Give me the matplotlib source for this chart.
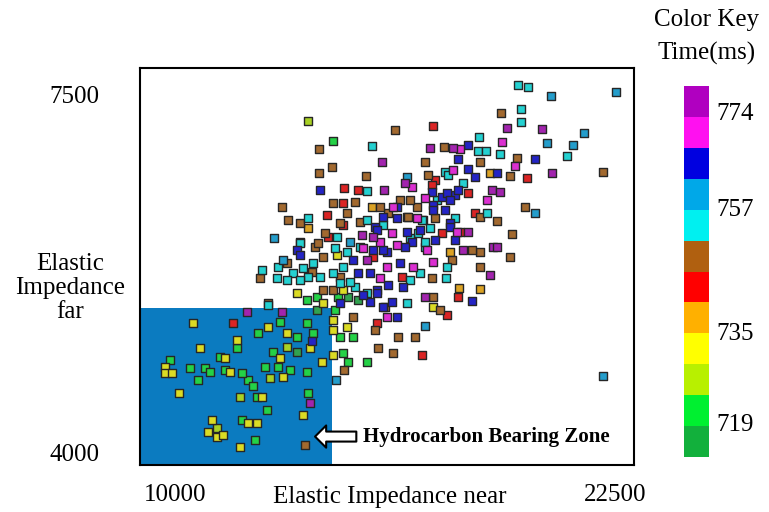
import numpy as np
import matplotlib
matplotlib.use("Agg")
import matplotlib.pyplot as plt
from matplotlib import colors, patches
from matplotlib.colorbar import ColorbarBase

plt.rcParams['font.family'] = ['Liberation Serif', 'DejaVu Serif']

# colour key: 12 time bins (ms), bottom -> top
key_colors = ['#12b03c', '#00f030', '#b8f000', '#ffff00', '#ffb000', '#ff0000',
              '#b06010', '#00f0f0', '#00a8e8', '#0000e0', '#ff10f0', '#b000c0']
key_edges = np.linspace(712.8, 778.6, 13)
key_ticks = [719, 735, 757, 774]

# (EI near, EI far) points, grouped by colour class
dark_green = [(14920, 5520), (15200, 5500), (14030, 5400), (13470, 4990)]
green = [(14490, 7050), (13750, 5500), (14550, 5400), (15450, 4890), (14920, 4890),
         (14770, 4980), (15060, 5130), (14690, 5130), (12360, 5170), (12980, 5280),
         (13470, 5130), (13750, 5270), (13920, 5170), (12780, 4990), (12560, 4840),
         (12930, 4840), (13270, 4810), (12070, 4710), (12220, 4650), (12330, 4550),
         (13750, 4790), (9860, 4910), (10430, 4830), (10850, 4830), (10990, 4790),
         (10650, 4710), (11280, 4940), (11420, 4810), (11900, 4780), (11760, 5030),
         (12610, 4420), (13780, 4590), (11900, 4320), (12270, 4130), (14030, 5520),
         (14630, 5520)]
yellow_green = [(13780, 7250), (12700, 4730), (11850, 4550), (11190, 4240), (13180, 5040)]
yellow = [(17330, 5430), (14200, 5470), (14490, 5300), (14890, 5230), (14490, 5200),
          (10510, 5270), (10710, 5030), (11760, 5100), (12640, 5230), (13180, 5170),
          (13840, 5030), (12980, 4930), (13070, 4740), (12470, 4550), (14180, 4890),
          (14490, 4960), (9720, 4840), (9720, 4780), (9910, 4780), (11420, 4930),
          (11560, 4790), (10110, 4590), (13640, 4370), (11050, 4320), (10940, 4200),
          (11190, 4160), (11360, 4180), (11850, 4060), (12070, 4290), (12330, 4290),
          (13470, 5560), (14770, 5590), (14600, 5940)]
orange = [(15600, 6400), (13780, 6200), (18670, 5600), (18070, 5610), (18950, 6740),
          (17810, 5960)]
red = [(17330, 7200), (14800, 6590), (15200, 6570), (20000, 6690), (17390, 6670),
       (17300, 6620), (18320, 6540), (18520, 6350), (16590, 6310), (17590, 6150),
       (18100, 6160), (14770, 6440), (14320, 6330), (14770, 6230), (16450, 5720),
       (18040, 5520), (17730, 5350), (15740, 5270), (17020, 4960), (11650, 5270),
       (14350, 6110), (15630, 5920)]
brown = [(19260, 7320), (17640, 6990), (19720, 6880), (18670, 6840), (19520, 6710),
         (22160, 6750), (17100, 6840), (16250, 7160), (14090, 6970), (14460, 6800),
         (14090, 6740), (15430, 6710), (17190, 6720), (19940, 6400), (18670, 6310),
         (19150, 6270), (19570, 6140), (19520, 5920), (18670, 5960), (18440, 5980),
         (18670, 5820), (17870, 5890), (17300, 5710), (17330, 5520), (17050, 6280),
         (16880, 6400), (16680, 6470), (16050, 6350), (15820, 6400), (15260, 6260),
         (14890, 6350), (15110, 6450), (14490, 6440), (14690, 6250), (14260, 6150),
         (14200, 5920), (13980, 6010), (13550, 6250), (13210, 6280), (13040, 6400),
         (12420, 5710), (13180, 5860), (14690, 5720), (14490, 5590), (14200, 5590),
         (12640, 5470), (15970, 5430), (17530, 5400), (15680, 5200), (16340, 5130),
         (16820, 5130), (15060, 5330), (15770, 5030), (16190, 4980), (14800, 4810),
         (13690, 4080), (16390, 6470), (16620, 6310), (17390, 6300), (13550, 6060),
         (14060, 6050), (13890, 5770)]
cyan = [(19750, 7600), (20030, 7580), (19830, 7360), (19830, 7240), (18640, 7090),
        (18610, 6950), (18840, 6950), (19230, 6920), (21140, 6900), (17670, 6750),
        (15600, 7000), (15450, 6560), (17760, 6720), (18180, 6640), (18860, 6350),
        (17240, 6200), (15910, 6230), (15450, 6280), (14600, 6110), (16900, 6150),
        (17100, 6010), (15260, 6010), (14890, 5960), (14550, 6000), (13550, 6050),
        (12930, 5820), (12470, 5790), (12900, 5710), (13350, 5760), (13640, 5810),
        (13920, 5860), (13780, 5720), (14120, 5720), (14490, 5760), (14770, 5820),
        (16680, 5690), (16960, 5760), (15450, 5560), (15110, 5620), (16590, 5470),
        (17730, 5820), (17700, 5710), (12640, 5450), (17440, 6470), (17020, 6280),
        (17950, 6300), (16680, 6100), (17100, 6060), (13780, 6300), (13180, 5690),
        (13550, 5690), (14690, 5660), (14970, 5670)]
light_blue = [(21620, 7130), (22530, 7530), (20680, 7490), (20570, 7030), (21310, 7010),
              (16590, 6700), (14970, 6060), (12810, 6100), (17100, 5240), (14570, 4710),
              (22160, 4750), (13070, 5890), (20230, 6350)]
blue = [(18320, 7010), (18040, 6870), (20230, 6870), (19150, 6740), (18320, 6780),
        (18520, 6700), (14120, 6570), (17950, 6520), (17330, 6420), (17590, 6500),
        (16310, 6400), (16310, 6300), (15680, 6210), (16590, 6160), (16730, 6060),
        (16020, 5960), (15630, 5980), (17950, 6080), (17810, 6250), (13470, 5980),
        (15060, 5890), (15200, 5760), (15540, 5760), (16390, 5860), (16480, 5620),
        (16050, 5640), (15740, 5590), (15540, 5480), (15910, 5430), (18440, 5490),
        (14690, 5470), (15740, 5560), (16170, 5480), (16310, 5330), (13890, 5090),
        (17300, 6550), (17730, 6540), (18040, 6570), (17810, 6470), (17330, 6380),
        (17670, 6380), (15910, 6310), (17810, 6210), (16960, 6180), (15740, 6180),
        (17390, 6080), (16530, 6010), (15910, 5980), (13550, 5940), (15340, 5540)]
magenta = [(19290, 7040), (18100, 6970), (16730, 6600), (18860, 6470), (17100, 6490),
           (16880, 6300), (15820, 6060), (16170, 6150), (16310, 6030), (17330, 5870),
           (15820, 5710), (16020, 5820), (16760, 5820), (19660, 6810), (17900, 6770),
           (16020, 5330), (16190, 6400), (18010, 6160), (17160, 5980), (15340, 6000)]
purple = [(19430, 7180), (20430, 7170), (17900, 6980), (17240, 6980), (15880, 6840),
          (15940, 6570), (19010, 6570), (19230, 6550), (20710, 6740), (19030, 6010),
          (18180, 5980), (18950, 5740), (17100, 5520), (18320, 6160), (15310, 6130),
          (15630, 6110), (15450, 5890), (13040, 5380), (12050, 5380), (13840, 4490),
          (16530, 6640), (19150, 6010)]

groups = [dark_green, green, yellow_green, yellow, orange, red,
          brown, cyan, light_blue, blue, magenta, purple]

# hydrocarbon bearing zone (upper corner of the blue box)
zone_near_max = 14460
zone_far_max = 5420

fig = plt.figure(figsize=(7.69, 5.12), dpi=100)
ax = fig.add_axes([0.182, 0.0918, 0.6424, 0.7754])
ax.set_xlim(9006, 23040)
ax.set_ylim(3882, 7764)

ax.add_patch(patches.Rectangle((9006, 3882), zone_near_max - 9006, zone_far_max - 3882,
                               facecolor='#0b7bc0', edgecolor='none', zorder=1))

# the marks in the picture look duller than the key, so mix a bit of grey in
grey = np.array([0.5, 0.5, 0.5])
for pts, c in zip(groups, key_colors):
    pts = np.array(pts)
    face = 0.72 * np.array(colors.to_rgb(c)) + 0.28 * grey
    ax.scatter(pts[:, 0], pts[:, 1], marker='s', s=30, color=face,
               edgecolors='#262626', linewidths=1.0, zorder=3)

ax.annotate('Hydrocarbon Bearing Zone', xy=(13980, 4160), xytext=(15350, 4160),
            ha='left', va='center', fontsize=15, fontweight='bold',
            arrowprops=dict(arrowstyle='simple,head_length=0.5,head_width=1.0,tail_width=0.45',
                            fc='white', ec='black', lw=1.5, mutation_scale=16,
                            shrinkA=3, shrinkB=0),
            zorder=4)

for s in ax.spines.values():
    s.set_linewidth(1.5)
ax.set_xticks([10000, 22500])
ax.set_yticks([4000, 7500])
ax.tick_params(length=0, labelsize=18)
ax.tick_params(axis='x', pad=14)
ax.tick_params(axis='y', pad=29)

fig.text(390 / 769, 1 - 497 / 512, 'Elastic Impedance near', fontsize=18,
         ha='center', va='center')
fig.text(70 / 769, 1 - 288 / 512, 'Elastic\nImpedance\nfar', fontsize=18,
         ha='center', va='center', multialignment='center', linespacing=1.1)

# colour key
cax = fig.add_axes([0.8895, 0.1074, 0.0325, 0.7246])
cb = ColorbarBase(cax, cmap=colors.ListedColormap(key_colors),
                  norm=colors.BoundaryNorm(key_edges, len(key_colors)),
                  boundaries=key_edges, ticks=key_ticks)
cb.outline.set_visible(False)
cax.minorticks_off()
cax.tick_params(which='both', length=0, labelsize=18, pad=5)
fig.text(707 / 769, 1 - 20 / 512, 'Color Key', fontsize=18, ha='center', va='center')
fig.text(707 / 769, 1 - 53 / 512, 'Time(ms)', fontsize=18, ha='center', va='center')

fig.savefig('out.png', dpi=100)
